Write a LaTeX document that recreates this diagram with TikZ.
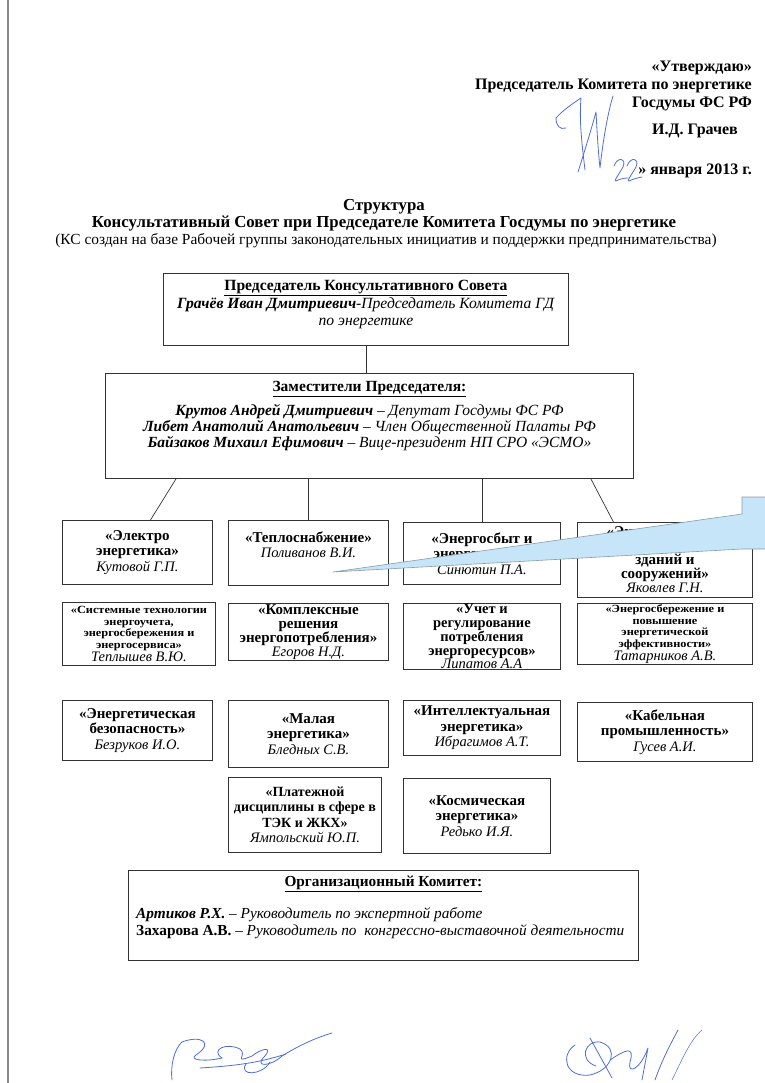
\documentclass[tikz,border=0pt]{standalone}
\usepackage{fontspec}
\setmainfont{Liberation Serif}
\newfontfamily\widefont[FakeStretch=1.12]{Liberation Serif}
\usetikzlibrary{positioning, calc}
\definecolor{cline}{HTML}{333333}
\definecolor{cpage}{HTML}{8A8A8A}
\definecolor{cink}{HTML}{4E6ED6}
\definecolor{cnote}{HTML}{C6E5F8}
\definecolor{cnoteline}{HTML}{8A9BAA}
\tikzset{
  frame/.style={draw=cline, anchor=north west, inner sep=0pt, line width=0.9pt},
  body/.style={align=center, inner sep=0pt, font=\fontsize{15.6}{17.5}\selectfont},
  unit/.style={draw=cline, anchor=north west, align=center, inner sep=1pt, line width=0.9pt,
    font=\bfseries\fontsize{15}{15.5}\selectfont},
  tiny/.style={font=\widefont\bfseries\fontsize{11}{11.8}\selectfont},
  head/.style={anchor=base east, inner sep=0pt, font=\bfseries\fontsize{16}{18}\selectfont},
  caption/.style={inner sep=0pt, font=\bfseries\fontsize{16.8}{18}\selectfont},
  link/.style={draw=cline, line width=0.7pt},
  ink/.style={draw=cink, line width=0.8pt, line cap=round, line join=round},
  note/.style={fill=cnote, draw=cnoteline, line width=0.6pt},
}
\newcommand{\who}[1]{{\rmfamily\mdseries\itshape\fontsize{14.5}{15.5}\selectfont #1}}

\begin{document}
\begin{tikzpicture}[x=1pt, y=-1pt]
  \useasboundingbox (0,0) rectangle (764,1083);
  \draw[cpage, line width=1.6pt] (8,0) -- (8,1083);

  % approval block
  \node[head] (approve) at (752,72) {«Утверждаю»};
  \node[head] (post) at (752,90) {Председатель Комитета по энергетике};
  \node[head] (duma) at (752,108) {Госдумы ФС РФ};
  \node[head] (signer) at (738,135) {И.Д. Грачев};
  \node[head] (date) at (752,175) {» января 2013 г.};

  % title
  \node[caption] (title) at (384,207) {Структура};
  \node[caption] (council) at (384,224) {Консультативный Совет при Председателе Комитета Госдумы по энергетике};
  \node[caption, font=\fontsize{15.4}{17}\selectfont] (basis) at (386,241) {(КС создан на базе Рабочей группы законодательных инициатив и поддержки предпринимательства)};

  % chairman and deputies
  \node[frame, minimum width=405, minimum height=72] (chair) at (163,273) {};
  \node[body, below=7pt of chair.north] (chairtxt) {\textbf{\underline{Председатель Консультативного Совета}}\\
    \textbf{\textit{Грачёв Иван Дмитриевич}}\textit{-Председатель Комитета ГД}\\\textit{по энергетике}};
  \node[frame, minimum width=528, minimum height=105] (deputy) at (105,373) {};
  \node[body, font=\fontsize{15.5}{16}\selectfont, below=8pt of deputy.north] (deputytxt) {\textbf{\underline{Заместители Председателя:}}\\[7pt]
    \textbf{\textit{Крутов Андрей Дмитриевич}} \textit{– Депутат Госдумы ФС РФ}\\
    \textbf{\textit{Либет Анатолий Анатольевич}} \textit{– Член Общественной Палаты РФ}\\
    \textbf{\textit{Байзаков Михаил Ефимович}} \textit{– Вице-президент НП СРО «ЭСМО»}};
  \draw[link] (chair.south) -- (chair.south |- deputy.north);

  % working groups
  \node[unit, minimum width=150, minimum height=64] (elec) at (62,520) {«Электро\\энергетика»\\\who{Кутовой Г.П.}};
  \node[unit, minimum width=160, minimum height=65] (heat) at (228,520) {«Теплоснабжение»\\\who{Поливанов В.И.}\\[1pt]};
  \node[unit, minimum width=157, minimum height=62] (sales) at (403,522) {«Энергосбыт и\\энергосервис»\\\who{Синютин П.А.}};
  \node[unit, minimum width=175, minimum height=75, font=\bfseries\fontsize{15}{14}\selectfont] (build) at (577,522) {«Энергетическая\\эффективность\\зданий и\\сооружений»\\\who{Яковлев Г.Н.}};

  \node[unit, tiny, minimum width=153, minimum height=63] (metering) at (62,602) {«Системные технологии\\энергоучета,\\энергосбережения и\\энергосервиса»\\\who{Теплышев В.Ю.}};
  \node[unit, minimum width=160, minimum height=57, font=\bfseries\fontsize{15}{14}\selectfont] (complex) at (228,603) {«Комплексные\\решения\\энергопотребления»\\\who{Егоров Н.Д.}};
  \node[unit, minimum width=157, minimum height=61, font=\bfseries\fontsize{14.5}{13.4}\selectfont] (account) at (403,603) {«Учет и\\регулирование\\потребления\\энергоресурсов»\\\who{Липатов А.А}};
  \node[unit, tiny, minimum width=175, minimum height=61] (saving) at (577,603) {«Энергосбережение и\\повышение\\энергетической\\эффективности»\\\who{Татарников А.В.}};

  \node[unit, minimum width=150, minimum height=60] (safety) at (62,700) {«Энергетическая\\безопасность»\\\who{Безруков И.О.}};
  \node[unit, minimum width=160, minimum height=67] (small) at (228,700) {«Малая\\энергетика»\\\who{Бледных С.В.}};
  \node[unit, minimum width=157, minimum height=55] (smart) at (403,700) {«Интеллектуальная\\энергетика»\\\who{Ибрагимов А.Т.}};
  \node[unit, minimum width=175, minimum height=59] (cable) at (577,702) {«Кабельная\\промышленность»\\\who{Гусев А.И.}};

  \node[unit, minimum width=153, minimum height=75, font=\bfseries\fontsize{14}{15.5}\selectfont] (payment) at (228,777) {«Платежной\\дисциплины в сфере в\\ТЭК и ЖКХ»\\\who{Ямпольский Ю.П.}};
  \node[unit, minimum width=147, minimum height=75] (space) at (403,778) {«Космическая\\энергетика»\\\who{Редько И.Я.}};

  \draw[link] ([xshift=71pt]deputy.south west) -- ([xshift=13pt]elec.north);
  \draw[link] (heat.north |- deputy.south) -- (heat.north);
  \draw[link] (sales.north |- deputy.south) -- (sales.north);
  \draw[link] ([xshift=-43pt]deputy.south east) -- ([xshift=-51.5pt]build.north);

  % organising committee
  \node[frame, minimum width=510, minimum height=90] (org) at (128,870) {};
  \node[body, font=\bfseries\fontsize{15.3}{17}\selectfont, below=6pt of org.north] (orgtitle) {\underline{Организационный Комитет:}};
  \node[body, font=\fontsize{15.3}{17}\selectfont, align=left, anchor=north west] (orglist) at ([xshift=8pt, yshift=-37pt]org.north west)
    {\textbf{\textit{Артиков Р.Х.}} \textit{– Руководитель по экспертной работе}\\
     \textbf{Захарова А.В.} \textit{– Руководитель по\ \ конгрессно-выставочной деятельности}};

  % comment callout
  \filldraw[note] (333,572) -- (742,514) -- (742,497) -- (775,497) -- (775,549) -- (742,549) -- cycle;

  % handwriting
  \draw[ink] (556,118) .. controls (562,111) and (572,104) .. (581,98) .. controls (579,120) and (582,145) .. (585,170);
  \draw[ink] (556,118) .. controls (556,126) and (560,130) .. (566,128);
  \draw[ink] (578,172) .. controls (585,150) and (591,130) .. (596,112) .. controls (597,130) and (598,150) .. (600,168) .. controls (603,140) and (608,112) .. (613,96);
  \draw[ink] (614,166) .. controls (617,157) and (627,157) .. (623,167) .. controls (619,174) and (613,182) .. (616,181) .. controls (620,179) and (624,178) .. (628,178);
  \draw[ink] (627,166) .. controls (630,157) and (640,157) .. (636,167) .. controls (632,174) and (626,182) .. (629,181) .. controls (633,179) and (637,178) .. (642,177);
  \draw[ink] (172,1080) .. controls (170,1065) and (175,1048) .. (182,1042) .. controls (200,1035) and (215,1042) .. (196,1055) .. controls (188,1060) and (205,1062) .. (222,1058);
  \draw[ink] (222,1058) .. controls (210,1050) and (226,1042) .. (240,1049) .. controls (248,1055) and (232,1064) .. (252,1056) .. controls (262,1048) and (274,1046) .. (264,1057) .. controls (254,1067) and (270,1067) .. (282,1056) .. controls (298,1046) and (315,1038) .. (332,1033);
  \draw[ink] (200,1068) .. controls (230,1066) and (255,1064) .. (286,1054);
  \draw[ink] (246,1064) .. controls (238,1076) and (262,1076) .. (270,1062);
  \draw[ink] (575,1045) .. controls (560,1055) and (565,1078) .. (590,1075) .. controls (612,1070) and (620,1048) .. (600,1042) .. controls (585,1040) and (578,1060) .. (596,1066);
  \draw[ink] (590,1038) -- (612,1078);
  \draw[ink] (610,1060) .. controls (625,1050) and (635,1045) .. (630,1062) .. controls (627,1075) and (640,1070) .. (648,1048) -- (642,1080);
  \draw[ink] (655,1080) .. controls (662,1060) and (670,1045) .. (678,1030);
  \draw[ink, line width=0.5pt] (672,1080) .. controls (682,1060) and (690,1040) .. (702,1030);
\end{tikzpicture}
\end{document}
